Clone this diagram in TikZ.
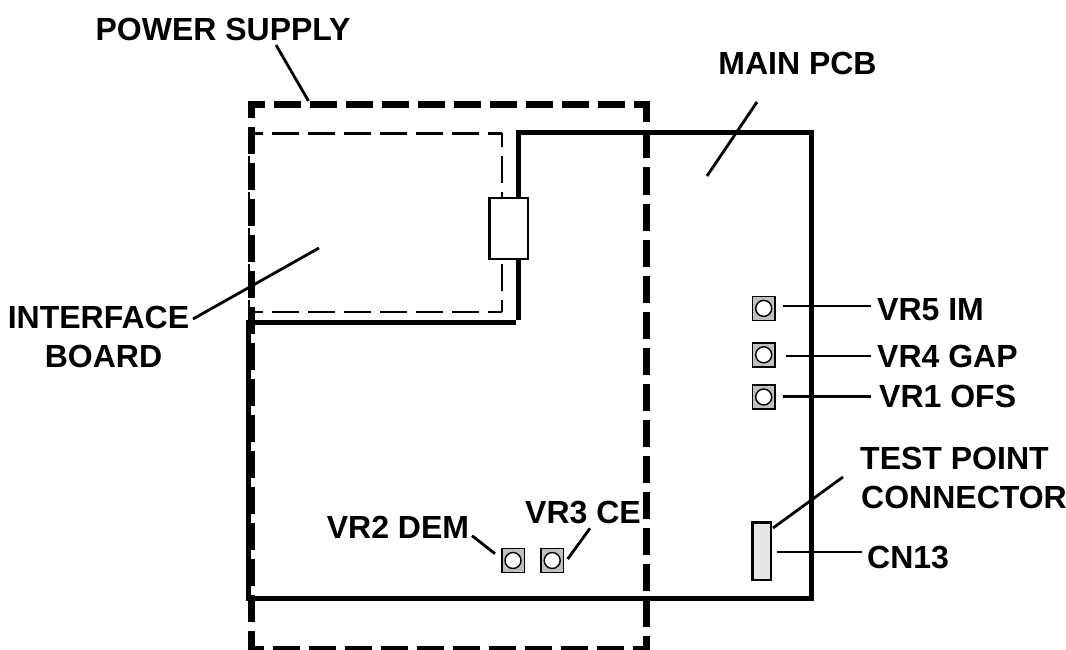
\documentclass[tikz,border=0pt]{standalone}
\usepackage{xcolor}
\usepackage{fontspec}
\setmainfont{Liberation Sans}
\usepackage{tikz}
\usetikzlibrary{positioning}
\definecolor{potgray}{RGB}{192,192,192}
\definecolor{cngray}{RGB}{230,230,230}
\tikzset{
  lbl/.style={inner sep=0pt, font=\fontsize{32}{36}\selectfont\bfseries},
  leader/.style={line width=2.8pt},
  pcbline/.style={line width=5pt, miter limit=10},
  psdash/.style={line width=7pt, line cap=rect, dash pattern=on 20pt off 16pt, dash phase=5.5pt},
  ifdash/.style={line width=2.3pt, dash pattern=on 27pt off 9pt, dash phase=13.5pt},
  potbase/.style={rectangle, draw, fill=potgray, line width=1.6pt, minimum width=22.6pt, minimum height=24pt, inner sep=0pt},
  potknob/.style={circle, draw, fill=white, line width=1.4pt, minimum size=16pt, inner sep=0pt},
  connbox/.style={rectangle, draw, fill=white, line width=2.3pt, inner sep=0pt, minimum width=38.5pt, minimum height=60.5pt},
  cnbox/.style={rectangle, draw, fill=cngray, line width=2.3pt, inner sep=0pt, minimum width=18.5pt, minimum height=57.5pt}
}
\begin{document}
\begin{tikzpicture}[x=1pt, y=-1pt]
  \useasboundingbox (0,0) rectangle (1066,650);

  % Interface board outline
  \draw[ifdash] (501.7,133.5) -- (249.3,133.5);
  \draw[ifdash] (501.7,133.5) -- (501.7,312.3);
  \draw[ifdash] (501.7,312.3) -- (249.3,312.3);
  \draw[ifdash] (249.3,133.5) -- (249.3,312.3);

  % Main PCB outline
  \draw[pcbline] (518,319.5) -- (518,133) -- (811.3,133) -- (811.3,600.5);
  \draw[pcbline] (515.7,322.7) -- (248,322.7) -- (248,598.7) -- (809,598.7);

  % Power supply outline
  \draw[psdash] (251.5,649) -- (251.5,104.5) -- (646.5,104.5);
  \draw[psdash] (646.5,104.5) -- (646.5,649) -- (251.5,649);

  % Connector between the boards
  \node[connbox] (conn) at (508.8,228.5) {};

  % Trimmers
  \foreach \potname/\px/\py in {vrfive/763.7/308.4, vrfour/763.7/354.8, vrone/763.7/397, vrtwo/513/560.5, vrthree/552.2/560.5} {
    \node[potbase] (\potname) at (\px,\py) {};
    \node[potknob] (\potname knob) at (\px,\py) {};
  }
  \node[cnbox] (cn) at (761.8,551.3) {};

  % Labels
  \node[lbl] (power) at (223,29) {POWER SUPPLY};
  \node[lbl] (mainpcb) at (797.5,63) {MAIN PCB};
  \node[lbl] (iface) at (98.5,317) {INTERFACE};
  \node[lbl] (board) at (103.5,356) {BOARD};
  \node[lbl, anchor=west] (lblfive) at (877,310) {VR5 IM};
  \node[lbl, anchor=west] (lblfour) at (877,356) {VR4 GAP};
  \node[lbl, anchor=west] (lblone) at (879,396) {VR1 OFS};
  \node[lbl, anchor=west] (test) at (860,458) {TEST POINT};
  \node[lbl, anchor=west] (connector) at (861,497) {CONNECTOR};
  \node[lbl, anchor=west] (lblcn) at (867,558) {CN13};
  \node[lbl] (lbltwo) at (398,527) {VR2 DEM};
  \node[lbl] (lblthree) at (583,513) {VR3 CE};

  % Leader ends
  \coordinate (pw1) at (276,45);
  \coordinate (pw2) at (308.5,101);
  \coordinate (mp1) at (757,102);
  \coordinate (mp2) at (707,176);
  \coordinate (if1) at (193,319);
  \coordinate (if2) at (319,248);
  \coordinate (f1) at (783,306);
  \coordinate (f2) at (871,306);
  \coordinate (g1) at (785.7,356);
  \coordinate (g2) at (871,356);
  \coordinate (o1) at (783,396.7);
  \coordinate (o2) at (871,396.7);
  \coordinate (t1) at (773,528);
  \coordinate (t2) at (843,477);
  \coordinate (c1) at (777,552);
  \coordinate (c2) at (862,552);
  \coordinate (d1) at (472,535.7);
  \coordinate (d2) at (495,553.7);
  \coordinate (e1) at (590,528.3);
  \coordinate (e2) at (567.7,559);

  % Leaders
  \foreach \from/\to in {pw1/pw2, mp1/mp2, if1/if2, f1/f2, g1/g2, o1/o2, t1/t2, c1/c2, d1/d2, e1/e2} {
    \draw[leader] (\from) -- (\to);
  }
\end{tikzpicture}
\end{document}
